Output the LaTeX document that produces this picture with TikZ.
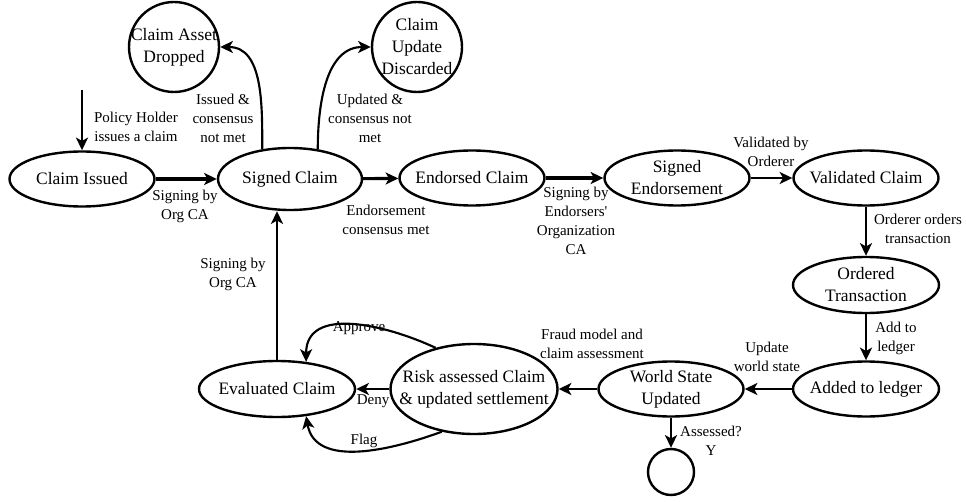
\documentclass[tikz,border=0pt]{standalone}
\usepackage{fontspec}
\setmainfont{Liberation Serif}
\usetikzlibrary{shapes.geometric,arrows.meta}
\tikzset{
  st/.style={ellipse, draw, line width=1.8pt, inner sep=0pt},
  cst/.style={circle, draw, line width=1.8pt, inner sep=0pt},
  nt/.style={align=center, inner sep=0pt, font=\fontsize{13.1}{16.5}\selectfont},
  lt/.style={align=center, inner sep=0pt, font=\fontsize{11.25}{14.25}\selectfont},
  ar/.style={line width=1.6pt, -{Stealth[length=9.5pt,width=9pt,inset=2.5pt]}},
  tar/.style={ar, line width=2.3pt}
}
\begin{document}
\begin{tikzpicture}[x=0.75pt,y=-0.75pt]
\path[use as bounding box, fill=white] (0,0) rectangle (966,502);
% states
\node[st, minimum width=108.75pt, minimum height=41.25pt] (ci) at (82,179) {};
\node[nt] (cit) at (ci) {Claim Issued};
\node[st, minimum width=108pt, minimum height=46.5pt] (sc) at (290,179) {};
\node[nt] (sct) at (sc) {Signed Claim};
\node[st, minimum width=108.75pt, minimum height=41.25pt] (ec) at (472,178) {};
\node[nt] (ect) at (ec) {Endorsed Claim};
\node[st, minimum width=108.75pt, minimum height=41.25pt] (se) at (677,178) {};
\node[nt] (set) at (se) {Signed\\Endorsement};
\node[st, minimum width=108.75pt, minimum height=41.25pt] (vc) at (866,178) {};
\node[nt] (vct) at (vc) {Validated Claim};
\node[st, minimum width=109.5pt, minimum height=42pt] (ot) at (866,285) {};
\node[nt] (ott) at (ot) {Ordered\\Transaction};
\node[st, minimum width=109.5pt, minimum height=41.25pt] (al) at (866,389) {};
\node[nt] (alt) at (al) {Added to ledger};
\node[st, minimum width=108.75pt, minimum height=41.25pt] (ws) at (671,389) {};
\node[nt] (wst) at (ws) {World State\\Updated};
\node[st, minimum width=125.25pt, minimum height=67.5pt] (ra) at (474,389) {};
\node[nt] (rat) at (ra) {Risk assessed Claim\\\& updated settlement};
\node[st, minimum width=117pt, minimum height=42pt] (ev) at (277,389) {};
\node[nt] (evt) at (ev) {Evaluated Claim};
\node[cst, minimum size=67.5pt] (cad) at (174,47) {};
\node[nt] (cadt) at (cad) {Claim Asset\\Dropped};
\node[cst, minimum size=67.5pt] (cud) at (417,47) {};
\node[nt] (cudt) at (cud) {Claim\\Update\\Discarded};
\node[cst, minimum size=34.5pt] (fin) at (671,472) {};
% connectors
\coordinate (start) at (82,90);
\draw[ar] (start) -- (ci.north);
\draw[tar] (ci) -- (sc);
\draw[tar] (sc) -- (ec);
\draw[tar] (ec) -- (se);
\draw[ar] (se) -- (vc);
\draw[ar] (vc) -- (ot);
\draw[ar] (ot) -- (al);
\draw[ar] (al) -- (ws);
\draw[ar] (ws) -- (ra);
\draw[ar] (ra) -- (ev);
\draw[ar] (ws) -- (fin);
\draw[ar] (ev.north) -- (ev.north |- sc.south);
\draw[ar] (sc.133) to[out=90,in=0] (cad.east);
\draw[ar] (sc.47) to[out=90,in=180] (cud.west);
\draw[ar] (ra.133) to[out=155,in=90,looseness=1.1] (ev.43);
\draw[ar] (ra.233) to[out=200,in=280] (ev.317);
% labels
\node[lt] (l1) at (136,127) {Policy Holder\\issues a claim};
\node[lt] (l2) at (185,206) {Signing by\\Org CA};
\node[lt] (l3) at (223,118) {Issued \&\\consensus\\not met};
\node[lt] (l4) at (370,118) {Updated \&\\consensus not\\met};
\node[lt] (l5) at (386,220) {Endorsement\\consensus met};
\node[lt] (l6) at (576,221) {Signing by\\Endorsers\textquotesingle\\Organization\\CA};
\node[lt] (l7) at (771,152) {Validated by\\Orderer};
\node[lt] (l8) at (918,229) {Orderer orders\\transaction};
\node[lt] (l9) at (896,338) {Add to\\ledger};
\node[lt] (l10) at (767,357) {Update\\world state};
\node[lt] (l11) at (592,344) {Fraud model and\\claim assessment};
\node[lt] (l12) at (711,441) {Assessed?\\Y};
\node[lt] (l13) at (233,274) {Signing by\\Org CA};
\node[lt] (l14) at (359,328) {Approve};
\node[lt] (l15) at (373,401) {Deny};
\node[lt] (l16) at (364,441) {Flag};
\end{tikzpicture}
\end{document}
